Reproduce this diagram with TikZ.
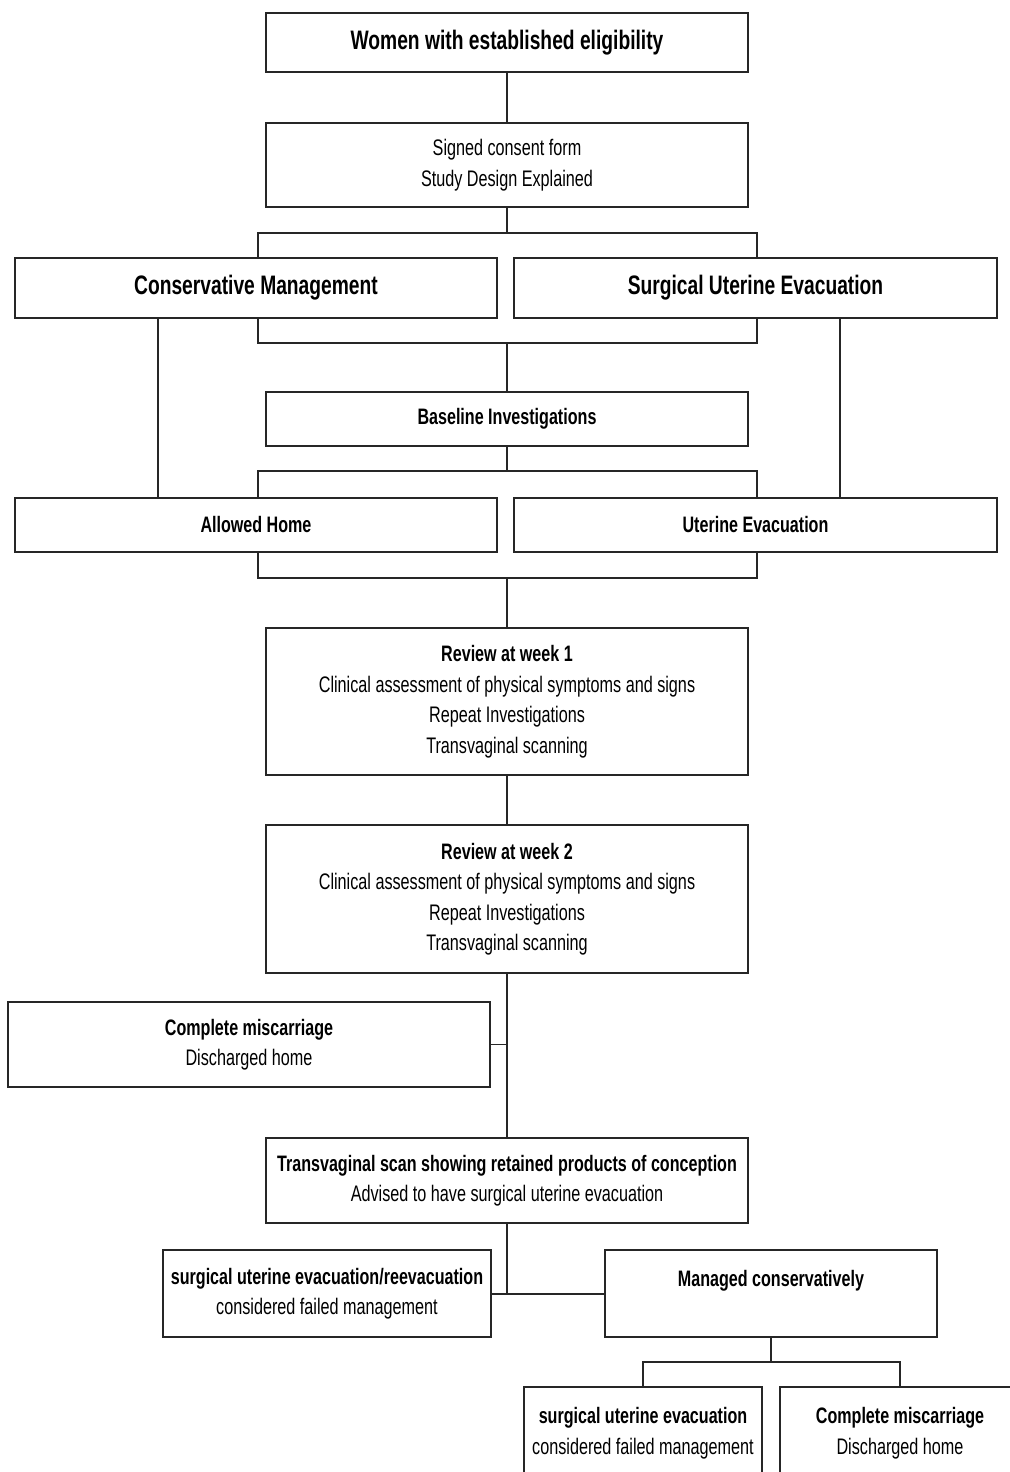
\documentclass[tikz,border=0pt]{standalone}
\usepackage{fontspec}
\setmainfont[FakeStretch=0.72]{Liberation Sans}
\newcommand{\headfont}{\fontsize{19}{22}\selectfont\bfseries}
\newcommand{\subfont}{\fontsize{15.9}{21.7}\selectfont\bfseries}
\newcommand{\txtfont}{\fontsize{16}{21.7}\selectfont}
\tikzset{
  box/.style={draw=black!85, line width=1.7pt, rectangle, inner sep=0pt, align=center, font=\txtfont},
  wide/.style={box, minimum width=12.05cm},
  link/.style={draw=black!85, line width=1.1pt}
}
\begin{document}
\begin{tikzpicture}[x=0.025cm, y=-0.025cm]
    \useasboundingbox (0,0) rectangle (1010,1472);
    \clip (0,0) rectangle (1010,1472);
    \fill[white] (0,0) rectangle (1010,1472);

    \node[wide, minimum height=1.475cm, font=\headfont] (women) at (507,42.5) {Women with established eligibility};
    \node[wide, minimum height=2.1cm] (consent) at (507,165) {Signed consent form\\Study Design Explained};
    \node[wide, minimum height=1.5cm, font=\headfont] (cons) at (256,288) {Conservative Management};
    \node[box, minimum width=12.075cm, minimum height=1.5cm, font=\headfont] (surg) at (755.5,288) {Surgical Uterine Evacuation};
    \node[wide, minimum height=1.35cm, font=\subfont] (base) at (507,419) {Baseline Investigations};
    \node[wide, minimum height=1.35cm, font=\subfont] (home) at (256,525) {Allowed Home};
    \node[box, minimum width=12.075cm, minimum height=1.35cm, font=\subfont] (uevac) at (755.5,525) {Uterine Evacuation};
    \node[wide, minimum height=3.675cm] (week1) at (507,701.5) {{\subfont Review at week 1}\\Clinical assessment of physical symptoms and signs\\Repeat Investigations\\Transvaginal scanning};
    \node[wide, minimum height=3.7cm] (week2) at (507,899) {{\subfont Review at week 2}\\Clinical assessment of physical symptoms and signs\\Repeat Investigations\\Transvaginal scanning};
    \node[wide, minimum height=2.125cm] (complete) at (249,1044.5) {{\subfont Complete miscarriage}\\Discharged home};
    \node[wide, minimum height=2.125cm] (tvs) at (507,1180.5) {{\subfont Transvaginal scan showing retained products of conception}\\Advised to have surgical uterine evacuation};
    \node[box, minimum width=8.2cm, minimum height=2.175cm] (failed) at (327,1293.5) {{\subfont surgical uterine evacuation/reevacuation}\\considered failed management};
    \node[box, minimum width=8.3cm, minimum height=2.175cm] (managed) at (771,1293.5) {{\subfont Managed conservatively}\\\mbox{}};
    \node[box, minimum width=5.95cm, minimum height=2.3cm] (failedb) at (643,1433) {{\subfont surgical uterine evacuation}\\considered failed management};
    \node[box, minimum width=6cm, minimum height=2.3cm] (completeb) at (900,1433) {{\subfont Complete miscarriage}\\Discharged home};

    \coordinate (ta) at (507,233);
    \coordinate (tl) at (258,233);
    \coordinate (tr) at (757,233);
    \coordinate (ba) at (507,343);
    \coordinate (bl) at (258,343);
    \coordinate (br) at (757,343);
    \coordinate (ua) at (507,471);
    \coordinate (ul) at (258,471);
    \coordinate (ur) at (757,471);
    \coordinate (da) at (507,578);
    \coordinate (dl) at (258,578);
    \coordinate (dr) at (757,578);
    \coordinate (lk) at (158,0);
    \coordinate (rk) at (840,0);
    \coordinate (fa) at (507,1294);
    \coordinate (ma) at (771,1362);
    \coordinate (ml) at (643,1362);
    \coordinate (mr) at (900,1362);

    \draw[link] (women) -- (consent);
    \draw[link] (consent) -- (ta);
    \draw[link] (tl |- cons.north) -- (tl) -- (tr) -- (tr |- surg.north);
    \draw[link] (bl |- cons.south) -- (bl) -- (br) -- (br |- surg.south);
    \draw[link] (ba) -- (base);
    \draw[link] (lk |- cons.south) -- (lk |- home.north);
    \draw[link] (rk |- surg.south) -- (rk |- uevac.north);
    \draw[link] (base) -- (ua);
    \draw[link] (ul |- home.north) -- (ul) -- (ur) -- (ur |- uevac.north);
    \draw[link] (dl |- home.south) -- (dl) -- (dr) -- (dr |- uevac.south);
    \draw[link] (da) -- (week1);
    \draw[link] (week1) -- (week2);
    \draw[link] (week2) -- (tvs);
    \draw[link] (complete.east) -- (complete.east -| tvs.north);
    \draw[link] (tvs) -- (fa);
    \draw[link] (failed.east |- fa) -- (managed.west |- fa);
    \draw[link] (managed) -- (ma);
    \draw[link] (ml |- failedb.north) -- (ml) -- (mr) -- (mr |- completeb.north);
\end{tikzpicture}
\end{document}
